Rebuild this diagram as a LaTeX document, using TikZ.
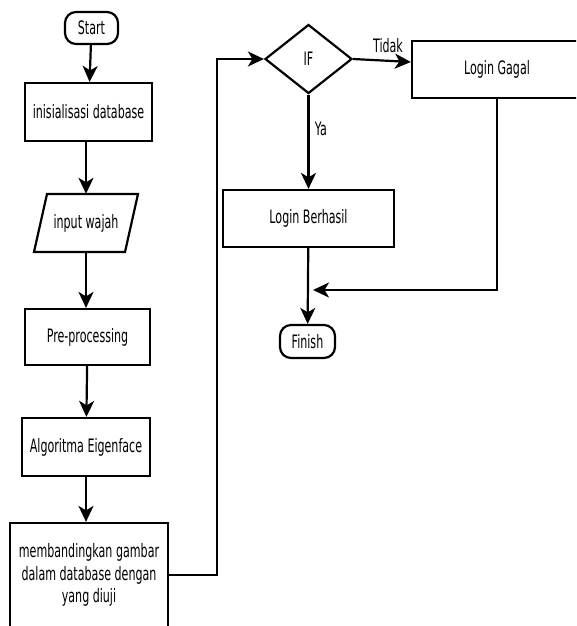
\documentclass[tikz,border=0pt]{standalone}
\usepackage{fontspec}
\setmainfont{DejaVu Sans}[FakeStretch=0.6]
\usetikzlibrary{arrows.meta,shapes.geometric}
\begin{document}
\begin{tikzpicture}[x=1pt,y=-1pt,
  every node/.style={font=\fontsize{18.5}{22.5}\selectfont},
  box/.style={draw,line width=2.2pt,rectangle,inner sep=2pt,align=center},
  term/.style={draw,line width=2.2pt,rectangle,rounded corners=11pt,inner sep=2pt},
  dec/.style={draw,line width=2.2pt,diamond,inner sep=0pt},
  conn/.style={line width=2.2pt,-{Stealth[length=16pt,width=15pt,inset=4.5pt]}},
  shp/.style={line width=2.2pt,line join=miter}]
\useasboundingbox (0,0) rectangle (576,626);
\clip (0,0) rectangle (576,626);
\node[term,minimum width=53pt,minimum height=32pt] (start) at (91.5,28) {Start};
\node[box,minimum width=127pt,minimum height=58pt] (init) at (88.5,112) {inisialisasi database};
\node[minimum width=91pt,minimum height=58pt,inner sep=0pt] (inp) at (86,223) {input wajah};
\draw[shp] (47,194) -- (138,194) -- (125,252) -- (34,252) -- cycle;
\node[box,minimum width=125pt,minimum height=56pt] (pre) at (87.5,337) {Pre-processing};
\node[box,minimum width=128pt,minimum height=58pt] (alg) at (86,447) {Algoritma Eigenface};
\node[box,minimum width=158pt,minimum height=104pt] (memb) at (89,575) {membandingkan gambar\\dalam database dengan\\yang diuji};
\node[dec,minimum width=87pt,minimum height=69pt] (if) at (308.5,59) {IF};
\node[box,minimum width=170pt,minimum height=57pt] (gagal) at (497,69.5) {Login Gagal};
\node[box,minimum width=171pt,minimum height=57pt] (berhasil) at (308.5,218.5) {Login Berhasil};
\node[term,minimum width=55pt,minimum height=33pt] (finish) at (307.5,341.5) {Finish};
\coordinate (mrg) at (313,290);
\coordinate (ifin) at (217,59);
\node (tidak) at (388,46) {Tidak};
\node (ya) at (321,129) {Ya};

\draw[conn] (start) -- (init);
\draw[conn] (init.south -| inp.north) -- (inp.north);
\draw[conn] (inp.south) -- (pre.north -| inp.south);
\draw[conn] (pre) -- (alg);
\draw[conn] (alg) -- (memb.north -| alg.south);
\draw[conn] (memb.east) -| (ifin) -- (if.west);
\draw[conn] (if.east) -- ([yshift=7.5pt]gagal.west);
\draw[conn] (if) -- (berhasil);
\draw[conn] (berhasil) -- (finish);
\draw[conn] (gagal.south) |- (mrg);
\end{tikzpicture}
\end{document}
